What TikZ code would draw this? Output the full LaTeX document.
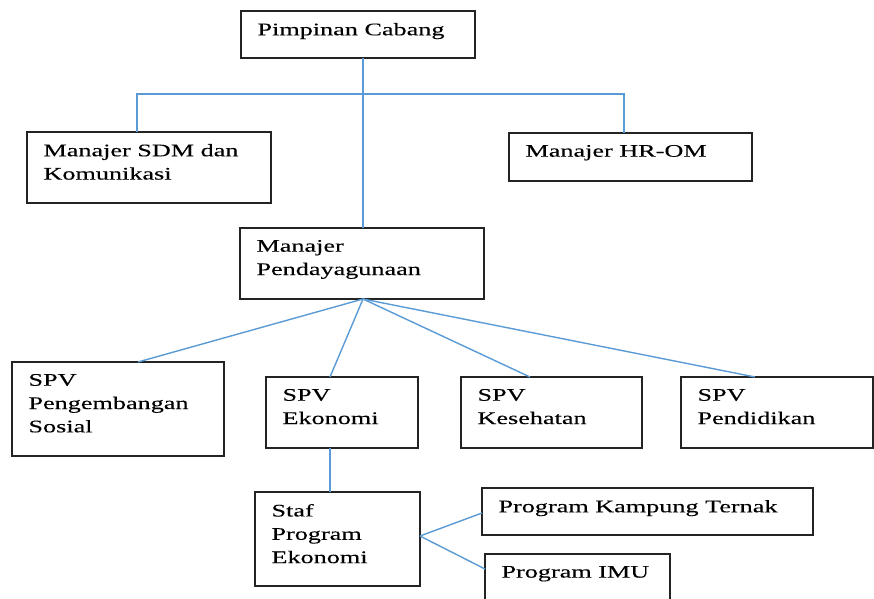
\documentclass[tikz,border=0pt]{standalone}
\usepackage{fontspec}
\setmainfont{Liberation Serif}[FakeStretch=1.48,FakeBold=0.15]
\definecolor{linkblue}{RGB}{91,155,213}
\definecolor{boxline}{RGB}{35,35,35}
\tikzset{
  orgbox/.style={draw=boxline, line width=1.4pt, anchor=north west, inner sep=0pt, outer sep=0pt},
  orglbl/.style={anchor=north west, inner sep=0pt, outer sep=0pt, align=left,
                 font=\fontsize{17.7}{23.3}\selectfont, text=black},
  conn/.style={draw=linkblue, line width=1.4pt}
}
\newcommand\orgnode[6]{%
  \node[orgbox, minimum width={(#4-#2)*1pt}, minimum height={(#5-#3)*1pt}] (#1) at (#2,#3) {};
  \node[orglbl] (#1t) at ([xshift=16.5pt,yshift=-12pt]#1.north west) {#6};
}
\begin{document}
\begin{tikzpicture}[x=1pt,y=-1pt]
\clip (0,0) rectangle (874,598);
\fill[white] (0,0) rectangle (874,598);

\orgnode{pc}{241}{11}{475}{58}{Pimpinan Cabang}
\orgnode{sdm}{27}{132}{271}{203}{Manajer SDM dan\\Komunikasi}
\orgnode{hrom}{509}{133}{752}{181}{Manajer HR-OM}
\orgnode{mp}{240}{228}{484}{299}{Manajer\\Pendayagunaan}
\orgnode{peng}{12}{362}{224}{456}{SPV\\Pengembangan\\Sosial}
\orgnode{eko}{266}{377}{418}{448}{SPV\\Ekonomi}
\orgnode{kes}{461}{377}{642}{448}{SPV\\Kesehatan}
\orgnode{pend}{681}{377}{873}{448}{SPV\\Pendidikan}
\orgnode{staf}{255}{492}{420}{586}{Staf\\Program\\Ekonomi}
\orgnode{kt}{482}{488}{813}{535}{Program Kampung Ternak}
\orgnode{imu}{485}{554}{670}{620}{Program IMU}

% junction coordinates
\coordinate (jtop) at (363,94);
\coordinate (jl) at (137,94);
\coordinate (jr) at (624,94);
\coordinate (fan) at (363,299);
\coordinate (epeng) at (138,362);
\coordinate (eeko) at (330,377);
\coordinate (ekes) at (530,377);
\coordinate (epend) at (755,377);
\coordinate (sfan) at (420,536);
\coordinate (ekt) at (486,513);
\coordinate (eimu) at (486,569);

\draw[conn] (pc.south -| jtop) -- (mp.north -| jtop);
\draw[conn] (sdm.north -| jl) -- (jl) -- (jr) -- (hrom.north -| jr);
\draw[conn] (mp.south -| fan) -- (peng.north -| epeng);
\draw[conn] (mp.south -| fan) -- (eko.north -| eeko);
\draw[conn] (mp.south -| fan) -- (kes.north -| ekes);
\draw[conn] (mp.south -| fan) -- (pend.north -| epend);
\draw[conn] (eko.south -| eeko) -- (staf.north -| eeko);
\draw[conn] (staf.east |- sfan) -- (kt.west |- ekt);
\draw[conn] (staf.east |- sfan) -- (imu.west |- eimu);
\end{tikzpicture}
\end{document}
